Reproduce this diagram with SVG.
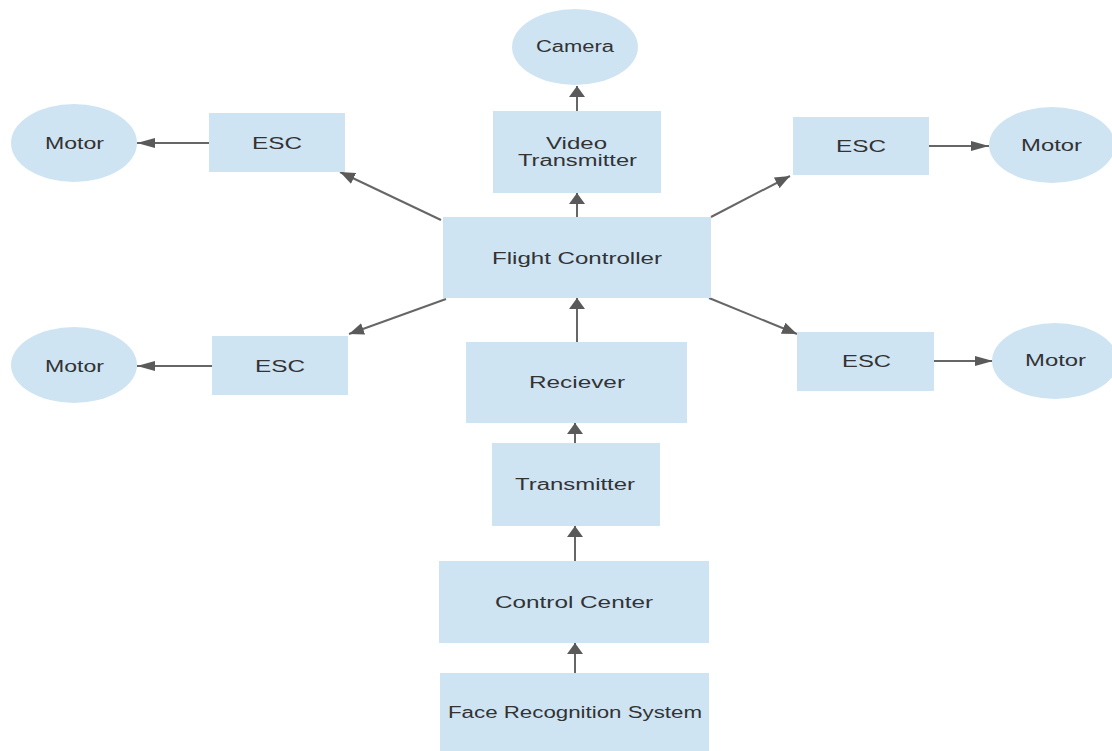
<svg xmlns="http://www.w3.org/2000/svg" width="1112" height="751" viewBox="0 0 1112 751">
<defs>
<style>
.n{fill:#cfe4f3;stroke:none}
.t{font-family:"Liberation Sans",Arial,sans-serif;font-size:16px;fill:#333;text-anchor:start}
.c{stroke:#666;stroke-width:2;fill:none}
</style>
<marker id="ah" markerUnits="userSpaceOnUse" markerWidth="18" markerHeight="10" refX="18" refY="5" orient="auto" viewBox="0 0 18 10"><path d="M0,0 L18,5 L0,10 z" fill="#5a5a5a"/></marker>
<marker id="av" markerUnits="userSpaceOnUse" markerWidth="11" markerHeight="16" refX="11" refY="8" orient="auto" viewBox="0 0 11 16"><path d="M0,0 L11,8 L0,16 z" fill="#5a5a5a"/></marker>
<marker id="ad" markerUnits="userSpaceOnUse" markerWidth="15" markerHeight="12" refX="15" refY="6" orient="auto" viewBox="0 0 15 12"><path d="M0,0 L15,6 L0,12 z" fill="#5a5a5a"/></marker>
</defs>
<rect width="1112" height="751" fill="#fff"/>
<g id="connectors">
<line class="c" x1="577" y1="111" x2="577" y2="86" marker-end="url(#av)"/>
<line class="c" x1="577" y1="217" x2="577" y2="193" marker-end="url(#av)"/>
<line class="c" x1="441" y1="220" x2="340" y2="172" marker-end="url(#ad)"/>
<line class="c" x1="209" y1="143" x2="137" y2="143" marker-end="url(#ah)"/>
<line class="c" x1="711" y1="217" x2="790" y2="176" marker-end="url(#ad)"/>
<line class="c" x1="929" y1="146" x2="989" y2="146" marker-end="url(#ah)"/>
<line class="c" x1="446" y1="299" x2="349" y2="334" marker-end="url(#ad)"/>
<line class="c" x1="212" y1="366" x2="137" y2="366" marker-end="url(#ah)"/>
<line class="c" x1="709" y1="298" x2="797" y2="334" marker-end="url(#ad)"/>
<line class="c" x1="934" y1="361" x2="993" y2="361" marker-end="url(#ah)"/>
<line class="c" x1="577" y1="342" x2="577" y2="298" marker-end="url(#av)"/>
<line class="c" x1="575" y1="443" x2="575" y2="423" marker-end="url(#av)"/>
<line class="c" x1="575" y1="561" x2="575" y2="526" marker-end="url(#av)"/>
<line class="c" x1="575" y1="673" x2="575" y2="643" marker-end="url(#av)"/>
</g>
<g id="camera"><ellipse class="n" cx="575" cy="47" rx="63" ry="38"/><text class="t" x="536" y="52" font-size="14" textLength="78" lengthAdjust="spacingAndGlyphs">Camera</text></g>
<g id="video-transmitter"><rect class="n" x="493" y="111" width="168" height="82"/><text class="t" x="546" y="149" textLength="61" lengthAdjust="spacingAndGlyphs">Video</text><text class="t" x="518" y="166" textLength="119" lengthAdjust="spacingAndGlyphs">Transmitter</text></g>
<g id="esc-tl"><rect class="n" x="209" y="113" width="136" height="59"/><text class="t" x="252" y="149" textLength="50" lengthAdjust="spacingAndGlyphs">ESC</text></g>
<g id="motor-tl"><ellipse class="n" cx="74" cy="143" rx="63" ry="39"/><text class="t" x="45" y="149" textLength="59" lengthAdjust="spacingAndGlyphs">Motor</text></g>
<g id="esc-tr"><rect class="n" x="793" y="117" width="136" height="58"/><text class="t" x="836" y="152" textLength="50" lengthAdjust="spacingAndGlyphs">ESC</text></g>
<g id="motor-tr"><ellipse class="n" cx="1052" cy="145" rx="63" ry="38"/><text class="t" x="1021" y="151" textLength="61" lengthAdjust="spacingAndGlyphs">Motor</text></g>
<g id="flight-controller"><rect class="n" x="443" y="217" width="268" height="81"/><text class="t" x="492" y="264" textLength="170" lengthAdjust="spacingAndGlyphs">Flight Controller</text></g>
<g id="esc-ll"><rect class="n" x="212" y="336" width="136" height="59"/><text class="t" x="255" y="372" textLength="50" lengthAdjust="spacingAndGlyphs">ESC</text></g>
<g id="motor-ll"><ellipse class="n" cx="74" cy="365" rx="63" ry="38"/><text class="t" x="45" y="372" textLength="59" lengthAdjust="spacingAndGlyphs">Motor</text></g>
<g id="reciever"><rect class="n" x="466" y="342" width="221" height="81"/><text class="t" x="529" y="388" textLength="96" lengthAdjust="spacingAndGlyphs">Reciever</text></g>
<g id="esc-lr"><rect class="n" x="797" y="332" width="137" height="59"/><text class="t" x="842" y="367" textLength="49" lengthAdjust="spacingAndGlyphs">ESC</text></g>
<g id="motor-lr"><ellipse class="n" cx="1055" cy="361" rx="63" ry="38"/><text class="t" x="1025" y="366" textLength="61" lengthAdjust="spacingAndGlyphs">Motor</text></g>
<g id="transmitter"><rect class="n" x="492" y="443" width="168" height="83"/><text class="t" x="515" y="490" textLength="120" lengthAdjust="spacingAndGlyphs">Transmitter</text></g>
<g id="control-center"><rect class="n" x="439" y="561" width="270" height="82"/><text class="t" x="495" y="608" textLength="158" lengthAdjust="spacingAndGlyphs">Control Center</text></g>
<g id="face-recognition"><rect class="n" x="440" y="673" width="269" height="78"/><text class="t" x="448" y="718" font-size="14" textLength="254" lengthAdjust="spacingAndGlyphs">Face Recognition System</text></g>
</svg>
